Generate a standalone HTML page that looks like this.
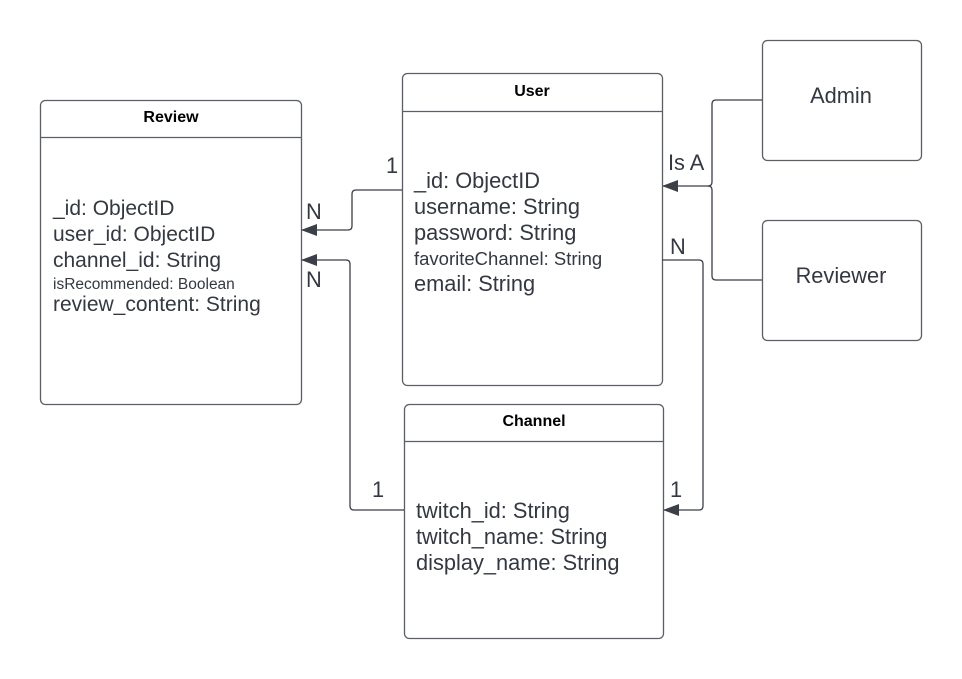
<!DOCTYPE html>
<html><head><meta charset="utf-8"><style>
html,body{margin:0;padding:0;background:#fff;}
svg{display:block;}
text{font-family:"Liberation Sans",Arial,sans-serif;fill:#333842;}
.t{font-weight:bold;font-size:16px;fill:#000;}
.f{font-size:21.8px;}
.r{font-size:21px;}
.s{font-size:15.5px;}
</style></head><body>
<svg width="962" height="679" viewBox="0 0 962 679" xmlns="http://www.w3.org/2000/svg">
<defs><marker id="a" markerWidth="16" markerHeight="12" refX="15" refY="6" orient="auto" markerUnits="userSpaceOnUse"><path d="M0,0 L16,6 L0,12 Z" fill="#3a3f48"/></marker></defs>
<g fill="none" stroke="#5a5f66" stroke-width="1.3">
<rect x="40.5" y="100.5" width="261" height="304" rx="5"/>
<line x1="40.5" y1="137.5" x2="301.5" y2="137.5"/>
<rect x="402.5" y="73.5" width="260" height="312" rx="5"/>
<line x1="402.5" y1="111.5" x2="662.5" y2="111.5"/>
<rect x="404.5" y="404.5" width="259" height="234" rx="5"/>
<line x1="404.5" y1="441.5" x2="663.5" y2="441.5"/>
<rect x="762.5" y="40.5" width="159" height="120" rx="5"/>
<rect x="762.5" y="220.5" width="159" height="120" rx="5"/>
</g>
<g fill="none" stroke="#3a3f48" stroke-width="1.3">
<path d="M402,190 H356 Q352,190 352,194 V226 Q352,230 348,230 H302" marker-end="url(#a)"/>
<path d="M404,510 H354 Q350,510 350,506 V264 Q350,260 346,260 H302" marker-end="url(#a)"/>
<path d="M662,260 H699 Q703,260 703,264 V506 Q703,510 699,510 H664" marker-end="url(#a)"/>
<path d="M762,100 H716 Q712,100 712,104 V182 Q712,186 708,186 H663" marker-end="url(#a)"/>
<path d="M762,280 H716 Q712,280 712,276 V190 Q712,186 708,186"/>
</g>
<text class="t" x="171" y="122" text-anchor="middle">Review</text>
<text class="t" x="532" y="96" text-anchor="middle">User</text>
<text class="t" x="534" y="426" text-anchor="middle">Channel</text>
<text class="r" x="53" y="215">_id: ObjectID</text>
<text class="r" x="53" y="241">user_id: ObjectID</text>
<text class="r" x="53" y="267">channel_id: String</text>
<text class="s" x="53" y="289">isRecommended: Boolean</text>
<text class="r" x="53" y="311">review_content: String</text>
<text class="f" x="414" y="188">_id: ObjectID</text>
<text class="f" x="414" y="214">username: String</text>
<text class="f" x="414" y="240">password: String</text>
<text x="414" y="265" style="font-size:18.5px">favoriteChannel: String</text>
<text class="f" x="414" y="291">email: String</text>
<text class="f" x="416" y="518">twitch_id: String</text>
<text class="f" x="416" y="544">twitch_name: String</text>
<text class="f" x="416" y="570">display_name: String</text>
<text class="f" x="841" y="103" text-anchor="middle">Admin</text>
<text class="f" x="841" y="283" text-anchor="middle">Reviewer</text>
<text class="f" x="386" y="173">1</text>
<text class="f" x="306" y="219">N</text>
<text class="f" x="306" y="287">N</text>
<text class="f" x="372" y="497">1</text>
<text class="f" x="670" y="497">1</text>
<text class="f" x="670" y="254">N</text>
<text class="f" x="668" y="170">Is A</text>
</svg>
</body></html>
